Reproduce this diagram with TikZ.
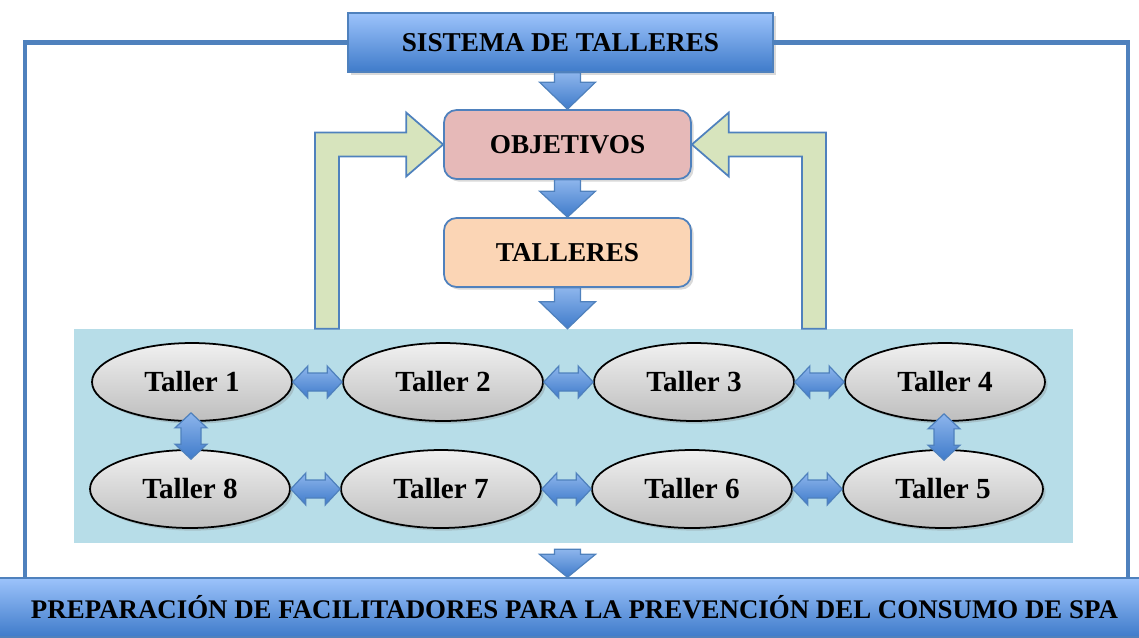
\documentclass[tikz,border=0pt]{standalone}
\usepackage{fontspec}
\setmainfont{Liberation Serif}
\usetikzlibrary{calc,shadows,shapes.geometric}
\definecolor{c0}{HTML}{4F81BD}
\definecolor{c1}{HTML}{9CC3FB}
\definecolor{c2}{HTML}{3F7BCA}
\definecolor{c3}{HTML}{E6B9B8}
\definecolor{c4}{HTML}{FBD5B5}
\definecolor{c5}{HTML}{D7E4BD}
\definecolor{c6}{HTML}{B7DDE8}
\definecolor{c7}{HTML}{F0F0F0}
\definecolor{c8}{HTML}{BEBEBE}
\definecolor{c9}{HTML}{8DB5EC}
\tikzset{%
  shadowed/.style={drop shadow={opacity=0.3,shadow xshift=1.5pt,shadow yshift=-1.5pt}},
  titlebox/.style={rectangle,draw=c0,line width=0.8pt,top color=c1,bottom color=c2,
    minimum width=8.5cm,minimum height=1.18cm,inner sep=0pt,shadowed},
  stepbox/.style={rectangle,rounded corners=0.25cm,draw=c0,line width=1pt,fill=#1,
    minimum width=4.94cm,minimum height=1.38cm,inner sep=0pt,shadowed},
  stepbox/.default=c3,
  taller/.style={ellipse,draw=black,line width=1pt,top color=c7,bottom color=c8,
    minimum width=4cm,minimum height=1.56cm,inner sep=0pt,shadowed,
    font=\fontsize{16.6}{19}\selectfont\bfseries},
  panel/.style={rectangle,fill=c6,minimum width=19.98cm,minimum height=4.28cm,inner sep=0pt},
  frame/.style={draw=c0,line width=2.3pt},
  blockarrow/.style={draw=c0,line width=0.7pt,top color=c9,bottom color=c2},
  bent/.style={draw=c0,line width=1pt,fill=c5}
}
% block arrow from #1 down to #2, head length #3
\newcommand{\blockdown}[3]{%
  \draw[blockarrow] ($(#1)+(-13,0)$) -- ($(#2)+(-13,-#3)$) -- ($(#2)+(-28,-#3)$) -- (#2)
    -- ($(#2)+(28,-#3)$) -- ($(#2)+(13,-#3)$) -- ($(#1)+(13,0)$) -- cycle;}
% double block arrow, #1 left, #2 right
\newcommand{\blockhh}[2]{%
  \draw[blockarrow] (#1) -- ($(#1)+(15,-16)$) -- ($(#1)+(15,-9)$) -- ($(#2)+(-15,-9)$)
    -- ($(#2)+(-15,-16)$) -- (#2) -- ($(#2)+(-15,16)$) -- ($(#2)+(-15,9)$)
    -- ($(#1)+(15,9)$) -- ($(#1)+(15,16)$) -- cycle;}
% double block arrow, #1 top, #2 bottom
\newcommand{\blockvv}[2]{%
  \draw[blockarrow] (#1) -- ($(#1)+(16,15)$) -- ($(#1)+(10,15)$) -- ($(#2)+(10,-15)$)
    -- ($(#2)+(16,-15)$) -- (#2) -- ($(#2)+(-16,-15)$) -- ($(#2)+(-10,-15)$)
    -- ($(#1)+(-10,15)$) -- ($(#1)+(-16,15)$) -- cycle;}

\begin{document}
\begin{tikzpicture}[x=0.02cm,y=-0.02cm,font=\fontsize{15.5}{18}\selectfont\bfseries]
  \useasboundingbox (0,0) rectangle (1139,637);
  \node[panel] (panel) at (573.5,436) {};
  \coordinate (fl) at (25,0);
  \coordinate (fr) at (1128,0);
  \node[titlebox] (sis) at (560.5,42.5) {};
  \node[titlebox,minimum width=22.9cm] (prep) at (569.5,607.5) {};
  \draw[frame] (sis.west) -| (fl |- prep.north);
  \draw[frame] (sis.east) -| (fr |- prep.north);
  \node (sistxt) at (sis) {SISTEMA DE TALLERES};
  \node[font=\fontsize{15.3}{18}\selectfont\bfseries] (preptxt) at ($(prep)+(5,0)$)
    {PREPARACIÓN DE FACILITADORES PARA LA PREVENCIÓN DEL CONSUMO DE SPA};
  \node[stepbox=c3] (obj) at (567.5,144.5) {OBJETIVOS};
  \node[stepbox=c4] (tall) at (567.5,252.5) {TALLERES};
  %%% bent arrows back to the objectives
  \coordinate (lx) at (327,0);
  \coordinate (rx) at (814,0);
  \coordinate (lb) at (lx |- panel.north);
  \coordinate (rb) at (rx |- panel.north);
  \draw[bent] (obj.west) -- ++(-37,-32) -- ++(0,20) -| ($(lb)+(-12,0)$) -- ++(24,0)
    |- ($(obj.west)+(-37,12)$) -- ++(0,20) -- cycle;
  \draw[bent] (obj.east) -- ++(37,-32) -- ++(0,20) -| ($(rb)+(12,0)$) -- ++(-24,0)
    |- ($(obj.east)+(37,12)$) -- ++(0,20) -- cycle;
  %%% down arrows
  \coordinate (a0) at (sis.south -| obj.north);
  \blockdown{a0}{obj.north}{27}
  \blockdown{obj.south}{tall.north}{26}
  \blockdown{tall.south}{tall.south |- panel.north}{27}
  \coordinate (a1) at ($(panel.south -| obj.south)+(0,6)$);
  \blockdown{a1}{a1 |- prep.north}{23}
  %%% workshops
  \node[taller] (t1) at (192,382) {Taller 1};
  \node[taller] (t2) at (443,382) {Taller 2};
  \node[taller] (t3) at (694,382) {Taller 3};
  \node[taller] (t4) at (945,382) {Taller 4};
  \node[taller] (t8) at (190,489) {Taller 8};
  \node[taller] (t7) at (441,489) {Taller 7};
  \node[taller] (t6) at (692,489) {Taller 6};
  \node[taller] (t5) at (943,489) {Taller 5};
  \blockhh{t1.east}{t2.west}
  \blockhh{t2.east}{t3.west}
  \blockhh{t3.east}{t4.west}
  \blockhh{t8.east}{t7.west}
  \blockhh{t7.east}{t6.west}
  \blockhh{t6.east}{t5.west}
  \coordinate (v1) at ($(t1.south)+(-1,-9)$);
  \coordinate (v8) at ($(t8.north)+(1,10)$);
  \coordinate (v4) at ($(t4.south)+(-1,-8)$);
  \coordinate (v5) at ($(t5.north)+(1,11)$);
  \blockvv{v1}{v1 |- v8}
  \blockvv{v4}{v4 |- v5}
\end{tikzpicture}
\end{document}
